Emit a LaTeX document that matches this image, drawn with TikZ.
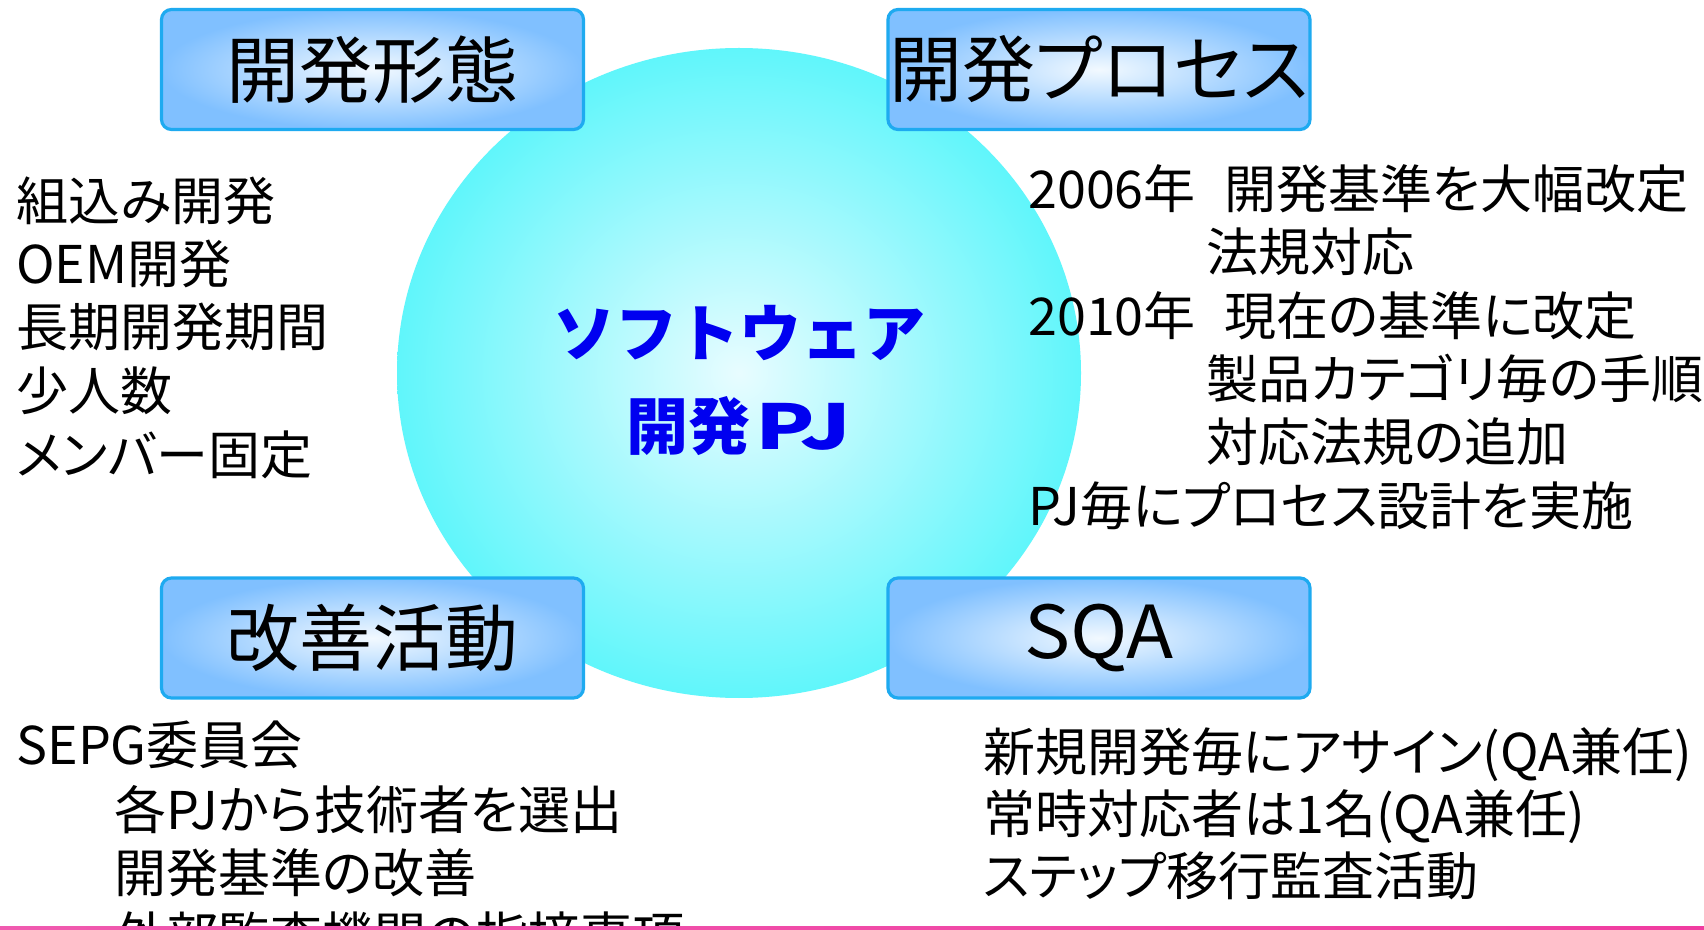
\documentclass[tikz,border=0pt]{standalone}
\usepackage{fontspec}
\setmainfont{Noto Sans CJK JP}[RawFeature=+palt]
\newfontfamily\corefont{Noto Sans CJK JP}
\usetikzlibrary{shapes.geometric}
\definecolor{boxedge}{RGB}{30,170,240}
\definecolor{boxout}{RGB}{128,192,255}
\definecolor{boxin}{RGB}{242,249,255}
\definecolor{cyanout}{RGB}{96,246,251}
\definecolor{cyanin}{RGB}{232,252,255}
\definecolor{coreblue}{RGB}{0,0,240}
\definecolor{pinkA}{RGB}{240,90,175}
\definecolor{pinkB}{RGB}{250,185,218}
\definecolor{pinkC}{RGB}{240,60,160}
\begin{document}
\begin{tikzpicture}[x=0.5pt,y=-0.5pt,
  titlebox/.style={rectangle, rounded corners=5pt, draw=boxedge, line width=1.6pt,
    shading=radial, inner color=boxin, outer color=boxout,
    minimum width=211pt, minimum height=60pt, inner sep=0pt,
    font=\fontsize{36.5pt}{40pt}\selectfont},
  body/.style={anchor=base west, inner sep=0pt, font=\fontsize{26pt}{30pt}\selectfont},
  coretext/.style={anchor=base, inner sep=0pt, text=coreblue,
    font=\corefont\bfseries\fontsize{31pt}{35pt}\selectfont}]
\useasboundingbox (0,0) rectangle (1704,930);
\fill[white] (0,0) rectangle (1704,930);
\clip (0,0) rectangle (1704,930);
% central ellipse
\node[ellipse, shading=radial, inner color=cyanin, outer color=cyanout,
      minimum width=342pt, minimum height=325pt, inner sep=0pt] (core) at (739,373) {};
\node[coretext] (core1) at (739,357) {ソフトウェア};
\node[coretext] (core2) at (739,450) {開発\kern0.08em\scalebox{1.4}[1]{PJ}};
% title boxes
\node[titlebox] (form) at (372.5,69.5) {開発形態};
\node[titlebox] (proc) at (1099,69.5) {開発プロセス};
\node[titlebox] (kaizen) at (372.5,638) {改善活動};
\node[titlebox] (sqa) at (1099,638) {\scalebox{1.06}[1]{SQA}};
% left block
\node[body] (l1) at (16,221) {組込み開発};
\node[body] (l2) at (16,284) {OEM開発};
\node[body] (l3) at (16,347) {長期開発期間};
\node[body] (l4) at (16,411) {少人数};
\node[body] (l5) at (16,475) {メンバー固定};
% right block
\node[body] (r1a) at (1028,209) {2006年};
\node[body] (r1b) at (1224,209) {開発基準を大幅改定};
\node[body] (r2) at (1206,272) {法規対応};
\node[body] (r3a) at (1028,336) {2010年};
\node[body] (r3b) at (1224,336) {現在の基準に改定};
\node[body] (r4) at (1206,399) {製品カテゴリ毎の手順};
\node[body] (r5) at (1206,462) {対応法規の追加};
\node[body] (r6) at (1028,526) {PJ毎にプロセス設計を実施};
% bottom left block
\node[body] (s1) at (16,764) {SEPG委員会};
\node[body] (s2) at (114,829) {各PJから技術者を選出};
\node[body] (s3) at (114,892) {開発基準の改善};
\node[body] (s4) at (114,955) {外部監査機関の指摘事項};
% bottom right block
\node[body] (q1) at (983,771) {新規開発毎にアサイン(QA兼任)};
\node[body] (q2) at (983,833) {常時対応者は1名(QA兼任)};
\node[body] (q3) at (983,895) {ステップ移行監査活動};
% pink rule at the bottom
\fill[left color=pinkA, middle color=pinkB, right color=pinkC] (0,926) rectangle (1704,930);
\end{tikzpicture}
\end{document}
